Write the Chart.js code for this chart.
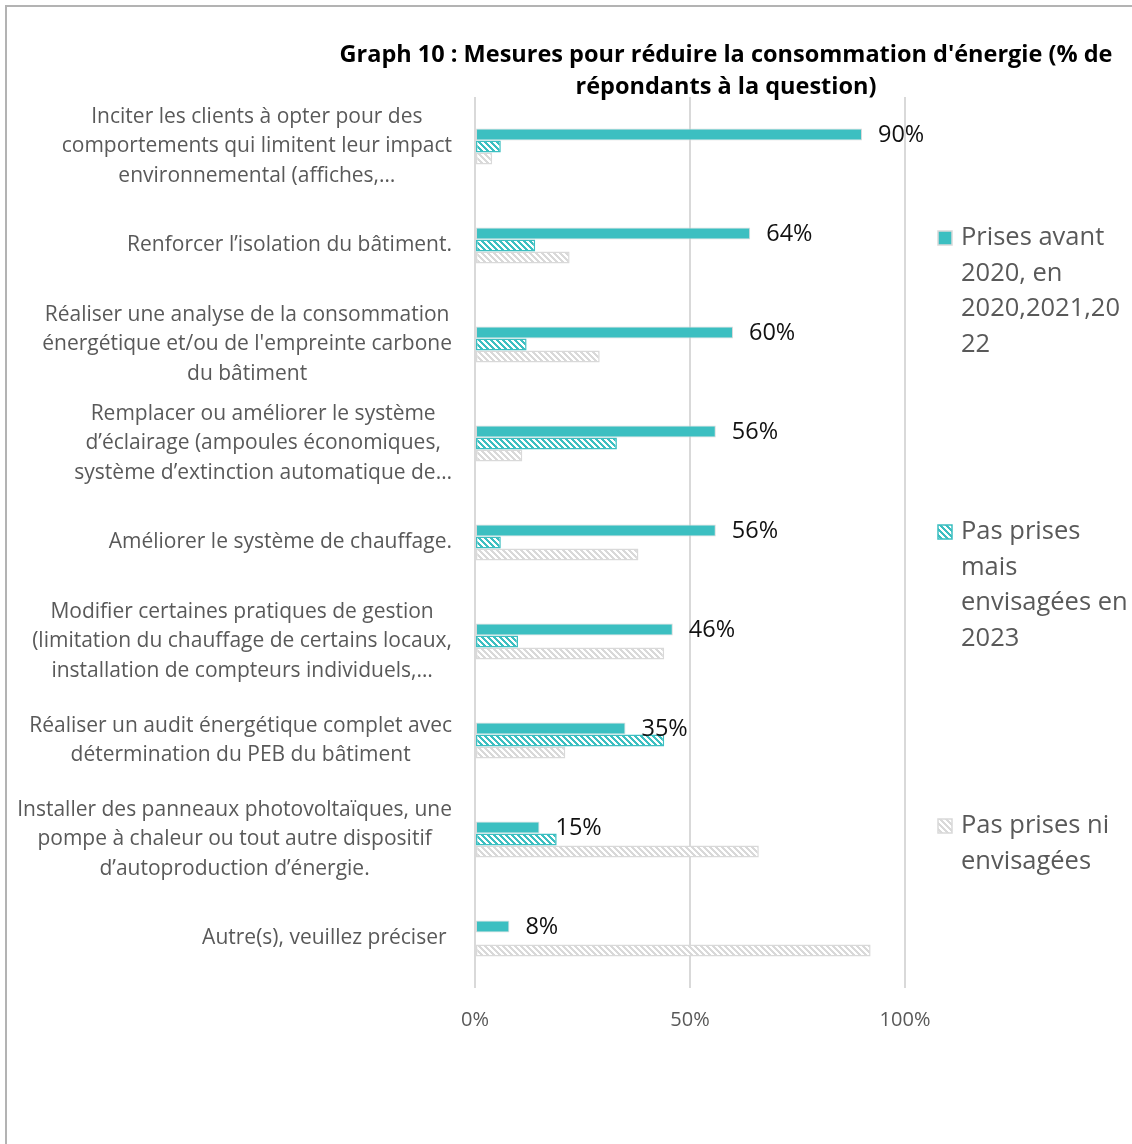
<!DOCTYPE html>
<html>
<head>
<meta charset="utf-8">
<script src="https://cdn.jsdelivr.net/npm/chart.js@4.4.1/dist/chart.umd.min.js"></script>
<style>
  html, body { margin: 0; padding: 0; background: #fff; }
  #wrap { width: 1132px; height: 1144px; position: relative; }
</style>
</head>
<body>
<div id="wrap"><canvas id="chart"></canvas></div>
<script>
// category labels (already wrapped like the original)
const categories = [
  ["Inciter les clients à opter pour des", "comportements qui limitent leur impact", "environnemental (affiches,…"],
  ["Renforcer l’isolation du bâtiment."],
  ["Réaliser une analyse de la consommation", "énergétique et/ou de l'empreinte carbone", "du bâtiment"],
  ["Remplacer ou améliorer le système", "d’éclairage (ampoules économiques,", "système d’extinction automatique de…"],
  ["Améliorer le système de chauffage."],
  ["Modifier certaines pratiques de gestion", "(limitation du chauffage de certains locaux,", "installation de compteurs individuels,…"],
  ["Réaliser un audit énergétique complet avec", "détermination du PEB du bâtiment"],
  ["Installer des panneaux photovoltaïques, une", "pompe à chaleur ou tout autre dispositif", "d’autoproduction d’énergie."],
  ["Autre(s), veuillez préciser "]
];

const seriesNames = [
  ["Prises avant", "2020, en", "2020,2021,20", "22"],
  ["Pas prises", "mais", "envisagées en", "2023"],
  ["Pas prises ni", "envisagées"]
];

// % of respondents
const prises = [90, 64, 60, 56, 56, 46, 35, 15, 8];
const envisagees = [6, 14, 12, 33, 6, 10, 44, 19, 0];
const pasPrises = [4, 22, 29, 11, 38, 44, 21, 66, 92];

const xTicks = [0, 50, 100];

const titleLines = ["Graph 10 : Mesures pour réduire la consommation d'énergie (% de", "répondants à la question)"];

const TEAL = '#3cbfc1';
const LIGHT = '#d9d9d9';
const TEXT = '#595959';
const FONT = '"Open Sans", Lato, sans-serif';

const canvas = document.getElementById('chart');
const ctx = canvas.getContext('2d');

function hatch(color) {
  const c = document.createElement('canvas');
  c.width = 6; c.height = 6;
  const g = c.getContext('2d');
  g.fillStyle = '#fff';
  g.fillRect(0, 0, 6, 6);
  g.fillStyle = color;
  for (let y = 0; y < 6; y++) {
    for (let x = 0; x < 6; x++) {
      if ((((x - y) % 6) + 6) % 6 < 3) g.fillRect(x, y, 1, 1);
    }
  }
  return ctx.createPattern(c, 'repeat');
}

const tealHatch = hatch(TEAL);
const greyHatch = hatch(LIGHT);

const datasets = [
  { label: seriesNames[0].join(' '), data: prises, backgroundColor: TEAL, borderColor: LIGHT, borderWidth: 1 },
  { label: seriesNames[1].join(' '), data: envisagees, backgroundColor: tealHatch, borderColor: TEAL, borderWidth: 1.5 },
  { label: seriesNames[2].join(' '), data: pasPrises, backgroundColor: greyHatch, borderColor: LIGHT, borderWidth: 1.5 }
].map(d => Object.assign(d, {
  borderSkipped: false,
  categoryPercentage: 0.364,
  barPercentage: 1
}));

const extras = {
  id: 'extras',
  beforeDraw(chart) {
    const c = chart.ctx;
    c.save();
    // frame (top and left edges visible)
    c.strokeStyle = '#b3b3b3';
    c.lineWidth = 2;
    c.beginPath();
    c.moveTo(6, 1144);
    c.lineTo(6, 6);
    c.lineTo(1132, 6);
    c.stroke();
    c.restore();
  },
  afterDraw(chart) {
    const c = chart.ctx;
    const area = chart.chartArea;
    const yScale = chart.scales.y;
    c.save();

    // title
    c.fillStyle = '#000';
    c.font = 'bold 23.5px ' + FONT;
    c.textAlign = 'center';
    c.textBaseline = 'middle';
    titleLines.forEach((t, i) => c.fillText(t, 726, 55 + i * 32));

    // category labels: block right-aligned, lines centred in block
    c.fillStyle = TEXT;
    c.font = '21px ' + FONT;
    categories.forEach((lines, i) => {
      const cy = yScale.getPixelForValue(i);
      const w = Math.max(...lines.map(l => c.measureText(l).width));
      const cx = area.left - 23 - w / 2;
      lines.forEach((l, k) => c.fillText(l, cx, cy + (k - (lines.length - 1) / 2) * 29.5));
    });

    // value labels on first series
    c.fillStyle = '#111';
    c.font = '23.5px ' + FONT;
    c.textAlign = 'left';
    chart.getDatasetMeta(0).data.forEach((bar, i) => {
      c.fillText(prises[i] + '%', bar.x + 16, bar.y + 1);
    });

    // legend
    const legendY = [238, 532, 826];
    const fills = [TEAL, tealHatch, greyHatch];
    const edges = [LIGHT, TEAL, LIGHT];
    seriesNames.forEach((lines, i) => {
      const y0 = legendY[i];
      c.fillStyle = fills[i];
      c.fillRect(938, y0 - 7, 14, 14);
      c.strokeStyle = edges[i];
      c.lineWidth = 1.5;
      c.strokeRect(938, y0 - 7, 14, 14);
      c.fillStyle = TEXT;
      c.font = '25.5px ' + FONT;
      c.textAlign = 'left';
      lines.forEach((l, k) => c.fillText(l, 961, y0 + k * 35.5));
    });

    c.restore();
  }
};

new Chart(canvas, {
  type: 'bar',
  data: { labels: categories, datasets: datasets },
  options: {
    indexAxis: 'y',
    responsive: true,
    maintainAspectRatio: false,
    animation: false,
    layout: { padding: { top: 97, right: 227, left: 0, bottom: 0 } },
    plugins: {
      legend: { display: false },
      title: { display: false },
      tooltip: { enabled: false }
    },
    scales: {
      x: {
        min: 0,
        max: 100,
        afterBuildTicks: scale => { scale.ticks = xTicks.map(v => ({ value: v })); },
        afterFit: scale => { scale.height = 156; },
        ticks: {
          callback: v => v + '%',
          color: TEXT,
          font: { family: FONT, size: 20 },
          padding: 20
        },
        grid: { color: LIGHT, lineWidth: 2, drawTicks: false },
        border: { display: false }
      },
      y: {
        afterFit: scale => { scale.width = 475; },
        ticks: { display: false },
        grid: { display: false },
        border: { display: false }
      }
    }
  },
  plugins: [extras]
});
</script>
</body>
</html>
